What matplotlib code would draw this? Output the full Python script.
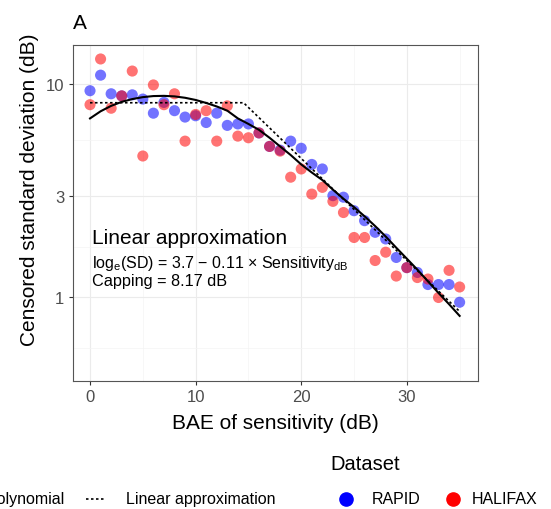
import matplotlib.pyplot as plt
import matplotlib.lines as mlines
import numpy as np
from matplotlib.ticker import FixedLocator, NullFormatter, FixedFormatter

plt.rcParams['font.family'] = ['Liberation Sans', 'DejaVu Sans']
plt.rcParams['mathtext.fontset'] = 'custom'
plt.rcParams['mathtext.rm'] = 'Liberation Sans'

# data
bae = np.arange(36)
rapid_sd = [9.3, 11.0, 9.0, 8.8, 8.9, 8.5, 7.3, 8.2, 7.5, 7.0, 7.1, 6.6,
            7.3, 6.4, 6.5, 6.5, 5.9, 5.1, 4.9, 5.4, 5.0, 4.2, 4.0, 3.0,
            2.95, 2.55, 2.29, 2.02, 1.88, 1.54, 1.38, 1.31, 1.15, 1.15, 1.15, 0.95]
halifax_sd = [8.0, 13.1, 7.7, 8.8, 11.5, 4.6, 9.9, 8.0, 9.0, 5.4, 7.2, 7.5,
              5.4, 7.9, 5.7, 5.6, 5.9, 5.1, 4.85, 3.66, 4.0, 3.05, 3.28, 2.82,
              2.5, 1.91, 1.91, 1.49, 1.63, 1.26, 1.38, 1.24, 1.22, 1.0, 1.34, 1.12]
poly_sd = [6.9, 7.45, 7.9, 8.25, 8.5, 8.68, 8.78, 8.8, 8.75, 8.62, 8.42, 8.15,
           7.85, 7.5, 6.9, 6.5, 6.1, 5.6, 5.1, 4.65, 4.2, 3.85, 3.55, 3.2,
           2.9, 2.65, 2.4, 2.16, 1.93, 1.71, 1.52, 1.35, 1.19, 1.05, 0.93, 0.82]
lin_bae = [0, 14.54, 35]
lin_sd = [8.17, 8.17, 0.86]

W, H = 551, 510


def fx(px):
    return px / W


def fy(py):
    return 1 - py / H


fig = plt.figure(figsize=(W / 100, H / 100), dpi=100)
ax = fig.add_axes([72.7 / W, 1 - 381.7 / H, 405.3 / W, 336 / H])

ax.scatter(bae, rapid_sd, s=64, color='blue', alpha=0.55, edgecolors='none', zorder=3)
ax.scatter(bae, halifax_sd, s=64, color='red', alpha=0.55, edgecolors='none', zorder=3)
ax.plot(bae, poly_sd, color='black', lw=1.5, zorder=4)
ax.plot(lin_bae, lin_sd, color='black', lw=1.2, ls=(0, (1.5, 1.5)), zorder=4)

ax.set_yscale('log')
ax.set_xlim(-1.64, 36.74)
ax.set_ylim(0.4076, 15.28)
ax.xaxis.set_major_locator(FixedLocator([0, 10, 20, 30]))
ax.xaxis.set_minor_locator(FixedLocator([5, 15, 25, 35]))
ax.yaxis.set_major_locator(FixedLocator([1, 3, 10]))
ax.yaxis.set_major_formatter(FixedFormatter(['1', '3', '10']))
ax.yaxis.set_minor_locator(FixedLocator([0.577, 1.732, 5.477]))
ax.yaxis.set_minor_formatter(NullFormatter())
ax.grid(True, which='major', color='#ebebeb', lw=0.8, zorder=0)
ax.grid(True, which='minor', color='#f4f4f4', lw=0.5, zorder=0)
ax.set_axisbelow(True)
ax.tick_params(which='major', length=3, width=0.8, color='#333333',
               labelcolor='#4d4d4d', labelsize=12, pad=3)
ax.tick_params(which='minor', length=0)
for sp in ax.spines.values():
    sp.set_color('#555555')
    sp.set_linewidth(0.8)

ax.set_xlabel('BAE of sensitivity (dB)', fontsize=15)
ax.set_ylabel('Censored standard deviation (dB)', fontsize=15)
ax.xaxis.set_label_coords(0.5, -0.095)
ax.yaxis.set_label_coords(-0.083, 0.57)

ax.text(0.16, 1.8, 'Linear approximation', fontsize=15, va='baseline')
ax.text(0.16, 1.385, r'log$_\mathregular{e}$(SD) = 3.7 − 0.11 × Sensitivity$_\mathregular{dB}$',
        fontsize=11.5, va='baseline')
ax.text(0.16, 1.14, 'Capping = 8.17 dB', fontsize=11.7, va='baseline')

fig.text(fx(73), fy(29), 'A', fontsize=15, va='baseline')

# bottom legends
row = 500
fig.add_artist(mlines.Line2D([fx(-60), fx(-40)], [fy(row), fy(row)], color='black', lw=1.5))
fig.text(fx(65), fy(row), 'Polynomial', fontsize=11.5, ha='right', va='center')
fig.add_artist(mlines.Line2D([fx(86), fx(105)], [fy(row), fy(row)], color='black',
                             lw=1.2, ls=(0, (1.5, 1.5))))
fig.text(fx(126), fy(row), 'Linear approximation', fontsize=11.5, va='center')

fig.text(fx(330), fy(465), 'Dataset', fontsize=14.5, va='center')
fig.add_artist(mlines.Line2D([fx(345.6)], [fy(row)], marker='o', ms=9.5, color='blue', ls='none'))
fig.text(fx(372), fy(row), 'RAPID', fontsize=11.5, va='center')
fig.add_artist(mlines.Line2D([fx(452.6)], [fy(row)], marker='o', ms=9.5, color='red', ls='none'))
fig.text(fx(472), fy(row), 'HALIFAX', fontsize=11.5, va='center')

fig.savefig('out.png', dpi=100)
